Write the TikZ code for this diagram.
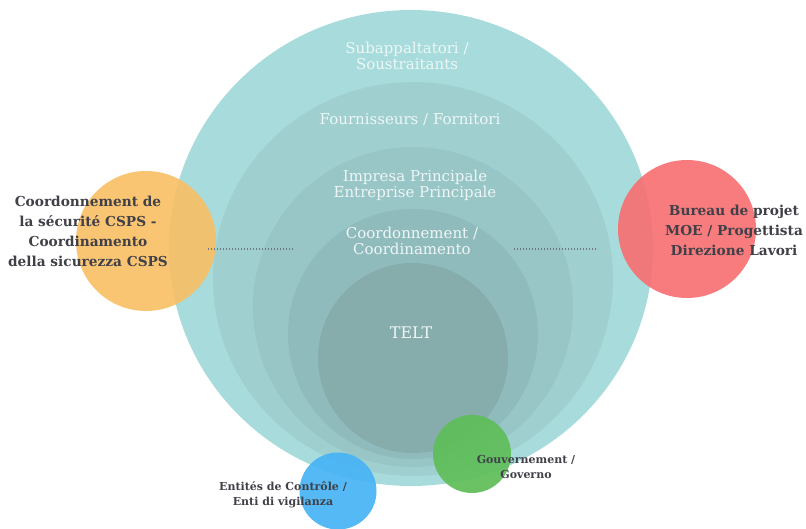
\documentclass[tikz,border=0pt]{standalone}
\usepackage{fontspec}
\setmainfont{DejaVu Serif}
\usetikzlibrary{shapes.geometric}
\definecolor{layA}{RGB}{168,220,220}
\definecolor{layB}{RGB}{160,207,208}
\definecolor{layC}{RGB}{152,197,198}
\definecolor{layD}{RGB}{144,187,188}
\definecolor{layE}{RGB}{134,172,172}
\definecolor{inntext}{RGB}{238,246,246}
\definecolor{labtext}{RGB}{64,64,72}
\definecolor{corange}{RGB}{250,190,95}
\definecolor{cred}{RGB}{248,110,112}
\definecolor{cblue}{RGB}{72,180,245}
\definecolor{cgreen}{RGB}{95,190,90}
\definecolor{dotcol}{RGB}{110,120,125}
\begin{document}
\begin{tikzpicture}[x=1pt,y=-1pt,
  layer/.style={ellipse,draw=none,inner sep=0pt,fill=#1},
  disc/.style={circle,draw=none,inner sep=0pt,fill=#1},
  inner/.style={text=inntext,align=center,font=\fontsize{15}{16}\selectfont,inner sep=0pt},
  sidelab/.style={text=labtext,align=center,font=\fontsize{13.7}{20}\selectfont\bfseries,inner sep=0pt},
  smalllab/.style={text=labtext,align=center,font=\fontsize{11}{15}\selectfont\bfseries,inner sep=0pt},
  dotline/.style={draw=dotcol,line width=1.1pt,dash pattern=on 1.1pt off 1.9pt}]
\useasboundingbox[fill=white] (0,0) rectangle (806,529);
% nested layers
\node[layer=layA,minimum width=484pt,minimum height=476pt] (outer) at (411,248) {};
\node[layer=layB,minimum width=400pt,minimum height=394pt] (four) at (413,279) {};
\node[layer=layC,minimum width=320pt,minimum height=320pt] (impr) at (413,307) {};
\node[layer=layD,minimum width=250pt,minimum height=250pt] (coord) at (413,334) {};
\node[layer=layE,minimum width=190pt,minimum height=190pt] (telt) at (413,358) {};
% inner texts
\node[inner] (tsub) at (407,56) {Subappaltatori /\\Soustraitants};
\node[inner] (tfour) at (410,120) {Fournisseurs / Fornitori};
\node[inner] (timpr) at (415,185) {Impresa Principale\\Entreprise Principale};
\node[inner] (tcoord) at (412,241) {Coordonnement /\\Coordinamento};
\node[inner,font=\fontsize{16}{16}\selectfont] (ttelt) at (411,333) {TELT};
% side discs
\node[disc=corange,opacity=0.88,minimum size=140pt] (orange) at (146,241) {};
\node[disc=cred,opacity=0.9,minimum size=138pt] (red) at (687,229) {};
\node[disc=cblue,opacity=0.93,minimum size=77pt] (blue) at (338,491) {};
\node[disc=cgreen,opacity=0.93,minimum size=78pt] (green) at (472,454) {};
% dotted connectors
\coordinate (dl1) at (208,249);
\coordinate (dl2) at (293,249);
\coordinate (dr1) at (514,249);
\coordinate (dr2) at (598,249);
\draw[dotline] (dl1) -- (dl2);
\draw[dotline] (dr1) -- (dr2);
% labels
\node[sidelab] (lcsps) at (88,231) {Coordonnement de\\la sécurité CSPS -\\Coordinamento\\della sicurezza CSPS};
\node[sidelab] (lbur) at (734,230) {Bureau de projet\\MOE / Progettista\\Direzione Lavori};
\node[smalllab] (lent) at (283,494.5) {Entités de Contrôle /\\Enti di vigilanza};
\node[smalllab] (lgov) at (526,466.5) {Gouvernement /\\Governo};
\end{tikzpicture}
\end{document}
